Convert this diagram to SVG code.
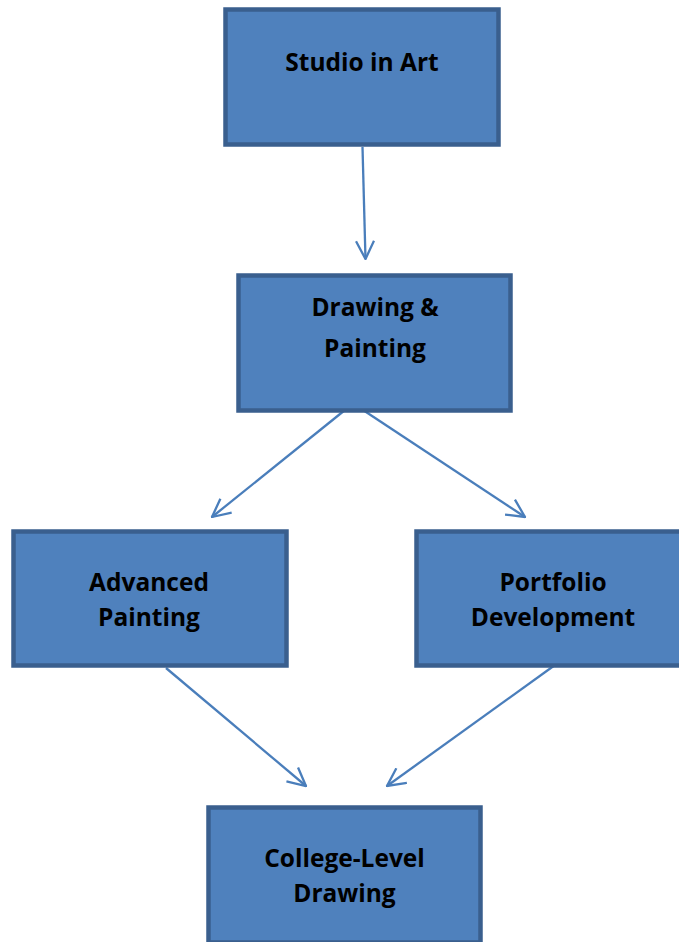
<svg xmlns="http://www.w3.org/2000/svg" width="679" height="942" viewBox="0 0 679 942">
<defs>
<style>
.box{fill:#4f81bd;stroke:#3a5f8e;stroke-width:4.5}
.lbl{font-family:"Open Sans","Liberation Sans",sans-serif;font-weight:bold;font-size:24.5px;fill:#000;text-anchor:middle}
.edge{fill:none;stroke:#4a7ebb;stroke-width:2.3}
</style>
<marker id="arr" viewBox="0 0 20 20" refX="19" refY="10" markerWidth="20" markerHeight="20" markerUnits="userSpaceOnUse" orient="auto">
<path d="M1,1 L19,10 L1,19" fill="none" stroke="#4a7ebb" stroke-width="2.3"/>
</marker>
</defs>
<rect width="679" height="942" fill="#fff"/>
<g id="connectors">
<line class="edge" x1="362.5" y1="147" x2="365.5" y2="259" marker-end="url(#arr)"/>
<line class="edge" x1="345" y1="410" x2="212" y2="517" marker-end="url(#arr)"/>
<line class="edge" x1="363" y1="410" x2="525" y2="517" marker-end="url(#arr)"/>
<line class="edge" x1="166" y1="668" x2="306" y2="786" marker-end="url(#arr)"/>
<line class="edge" x1="555" y1="665" x2="387" y2="786" marker-end="url(#arr)"/>
</g>
<g id="studio-in-art">
<rect class="box" x="225.5" y="9.5" width="273" height="135"/>
<text class="lbl" x="362" y="71">Studio in Art</text>
</g>
<g id="drawing-painting">
<rect class="box" x="238.5" y="275.5" width="272" height="135"/>
<text class="lbl" x="375" y="316">Drawing &amp;</text>
<text class="lbl" x="375" y="357">Painting</text>
</g>
<g id="advanced-painting">
<rect class="box" x="13.5" y="531.5" width="273" height="134"/>
<text class="lbl" x="149" y="591">Advanced</text>
<text class="lbl" x="149" y="626">Painting</text>
</g>
<g id="portfolio-development">
<rect class="box" x="416.5" y="531.5" width="273" height="134"/>
<text class="lbl" x="553" y="591">Portfolio</text>
<text class="lbl" x="553" y="626">Development</text>
</g>
<g id="college-level-drawing">
<rect class="box" x="208.5" y="807.5" width="272" height="135"/>
<text class="lbl" x="344.5" y="867">College-Level</text>
<text class="lbl" x="344.5" y="902">Drawing</text>
</g>
</svg>
